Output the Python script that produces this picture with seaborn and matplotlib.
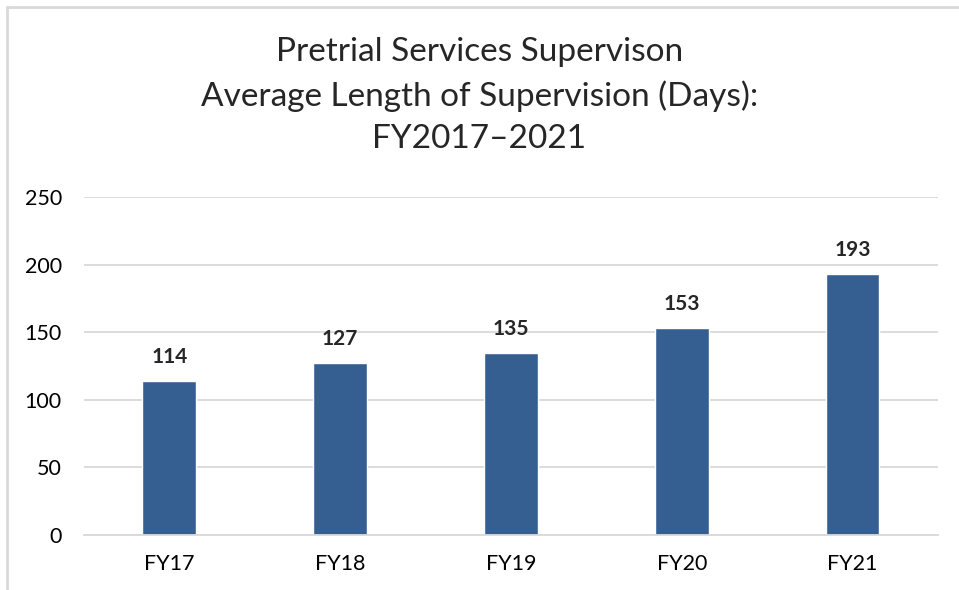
import pandas as pd
import numpy as np
import matplotlib.pyplot as plt
import seaborn as sns
from matplotlib.lines import Line2D

# Data
years = ["FY17", "FY18", "FY19", "FY20", "FY21"]
avg_days = [114, 127, 135, 153, 193]

df = pd.DataFrame({"Year": years, "Days": avg_days})

sns.set_style("white")
plt.rcParams["font.family"] = ["Lato", "DejaVu Sans"]

fig = plt.figure(figsize=(9.59, 5.90), dpi=100)
ax = fig.add_axes([0.0876, 0.0932, 0.8904, 0.5728])

sns.barplot(data=df, x="Year", y="Days", color="#365F91", saturation=1, width=0.316, ax=ax)

ax.set_ylim(0, 250)
ax.set_yticks(np.arange(0, 251, 50))
ax.yaxis.grid(True, color="#D9D9D9", linewidth=1.3)
ax.set_axisbelow(True)
for s in ["top", "right", "left"]:
    ax.spines[s].set_visible(False)
ax.spines["bottom"].set_color("#D9D9D9")
ax.spines["bottom"].set_linewidth(1.3)
ax.set_xlabel("")
ax.set_ylabel("")
ax.tick_params(axis="both", length=0, labelsize=15.5, colors="black")
ax.tick_params(axis="y", pad=16)
ax.tick_params(axis="x", pad=14)

ax.bar_label(ax.containers[0], padding=10, fontsize=15, fontweight="bold")

fig.text(0.5, 0.838, "Pretrial Services Supervison\nAverage Length of Supervision (Days):\nFY2017\u20132021",
         ha="center", va="center", fontsize=24, linespacing=1.5)

# chart frame (top and left edges are visible in the screenshot)
fig.add_artist(Line2D([0.0073, 1.0], [0.988, 0.988], transform=fig.transFigure, color="#D9D9D9", linewidth=2))
fig.add_artist(Line2D([0.0073, 0.0073], [0.0, 0.988], transform=fig.transFigure, color="#D9D9D9", linewidth=2))

plt.savefig("out.png", dpi=100)
